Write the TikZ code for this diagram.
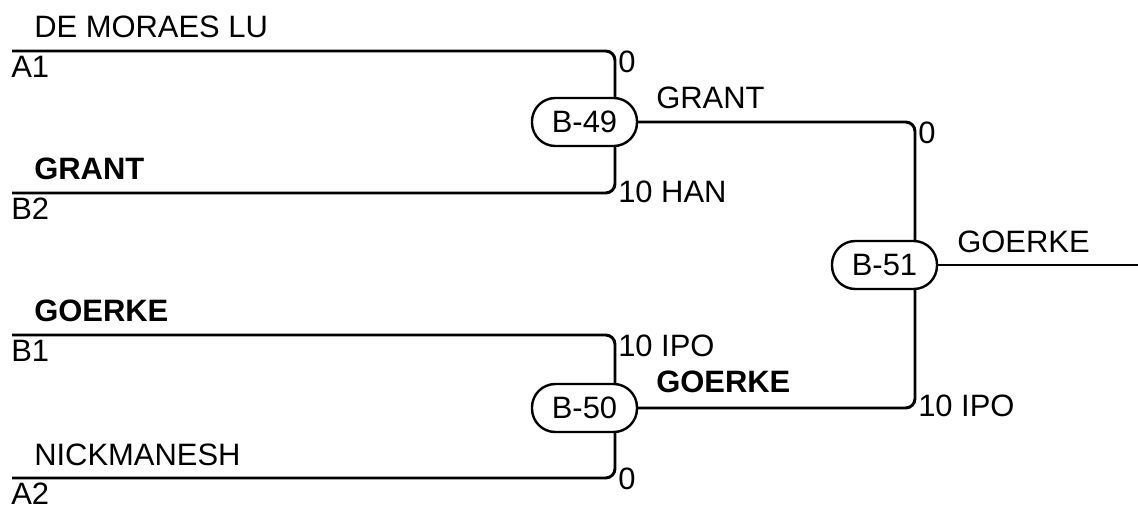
\documentclass[tikz,border=0pt]{standalone}
\usepackage{fontspec}
\setmainfont{Liberation Sans}
\begin{document}
\begin{tikzpicture}[x=0.75pt,y=-0.75pt,
  wire/.style={line width=2.2pt, rounded corners=7pt},
  match/.style={draw, line width=1.8pt, fill=white, rounded corners=17.5pt,
    minimum width=78.75pt, minimum height=36pt, inner sep=0pt,
    font=\fontsize{23.2}{27}\selectfont},
  txt/.style={anchor=base west, inner sep=0pt, font=\fontsize{23.2}{27}\selectfont},
  btxt/.style={anchor=base west, inner sep=0pt, font=\fontsize{23.2}{27}\selectfont\bfseries}]
\useasboundingbox (0,0) rectangle (1138,508);
% junction points and line ends
\coordinate (a1) at (12,51);
\coordinate (b2) at (12,193);
\coordinate (b1) at (12,335);
\coordinate (a2) at (12,478);
\coordinate (j49) at (615,122);
\coordinate (j50) at (615,407);
\coordinate (j51) at (915,265);
\coordinate (champ) at (1138,265);
% first round wires
\draw[wire] (a1) -| (j49);
\draw[wire] (b2) -| (j49);
\draw[wire] (b1) -| (j50);
\draw[wire] (a2) -| (j50);
% first round matches
\node[match] (b49) at (584.5,122) {B-49};
\node[match] (b50) at (584.5,408) {B-50};
% second round wires
\draw[wire] (b49.east) -| (j51);
\draw[wire] (b50.east) -| (j51);
\node[match] (b51) at (884.5,265) {B-51};
\draw[wire] (b51.east) -- (champ);
% labels
\node[txt] (n1) at (34,37) {DE MORAES LU};
\node[txt] (r1) at (11,77) {A1};
\node[txt] (s1) at (618,72) {0};
\node[btxt] (n2) at (34,179) {GRANT};
\node[txt] (r2) at (11,219) {B2};
\node[txt] (s2) at (618,202) {10 HAN};
\node[txt] (w49) at (656,108) {GRANT};
\node[txt] (s3) at (918,143) {0};
\node[txt] (w51) at (957,252) {GOERKE};
\node[btxt] (n3) at (34,321) {GOERKE};
\node[txt] (r3) at (11,361) {B1};
\node[txt] (s4) at (618,356) {10 IPO};
\node[btxt] (w50) at (656,392) {GOERKE};
\node[txt] (s5) at (918,416) {10 IPO};
\node[txt] (n4) at (34,465) {NICKMANESH};
\node[txt] (s6) at (618,489) {0};
\node[txt] (r4) at (11,504) {A2};
\end{tikzpicture}
\end{document}
